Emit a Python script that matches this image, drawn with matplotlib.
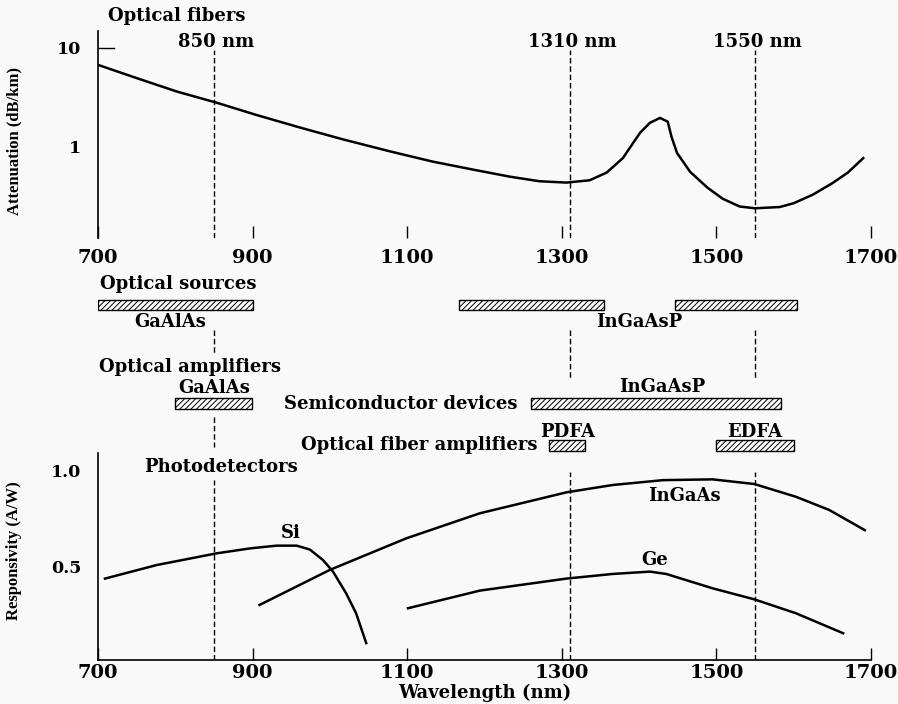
import numpy as np
import matplotlib
matplotlib.use("Agg")
import matplotlib.pyplot as plt

# attenuation of silica fiber (dB/km)
att_wl = [700, 754, 802, 853, 905, 961, 1017, 1078, 1133, 1185, 1233, 1271, 1306,
          1336, 1358, 1379, 1401, 1414, 1427, 1437, 1442, 1449, 1466, 1488, 1508, 1530,
          1550, 1582, 1600, 1625, 1650, 1670, 1690]
att_db = [6.73, 4.83, 3.62, 2.80, 2.10, 1.57, 1.19, 0.90, 0.71, 0.59, 0.50, 0.45, 0.436,
          0.46, 0.55, 0.77, 1.38, 1.75, 1.96, 1.8, 1.26, 0.87, 0.56, 0.39, 0.30, 0.25,
          0.24, 0.247, 0.27, 0.33, 0.43, 0.55, 0.77]

# responsivity of photodetectors (A/W)
si_wl = [709, 776, 853, 897, 931, 957, 974, 991, 1004, 1021, 1034, 1047]
si_r = [0.44, 0.51, 0.57, 0.596, 0.61, 0.61, 0.59, 0.536, 0.476, 0.364, 0.26, 0.107]
ingaas_wl = [909, 1000, 1099, 1194, 1306, 1366, 1431, 1495, 1549, 1603, 1646, 1692]
ingaas_r = [0.304, 0.485, 0.648, 0.777, 0.885, 0.923, 0.948, 0.952, 0.928, 0.862, 0.794, 0.69]
ge_wl = [1101, 1194, 1306, 1366, 1414, 1435, 1495, 1549, 1603, 1664]
ge_r = [0.287, 0.378, 0.44, 0.464, 0.476, 0.464, 0.39, 0.333, 0.261, 0.158]

# device wavelength ranges (nm)
src_gaalas = (700, 900)
src_ingaasp = [(1167, 1354), (1447, 1604)]
amp_gaalas = (800, 899)
amp_ingaasp = (1260, 1583)
pdfa = (1284, 1330)
edfa = (1500, 1601)

windows = [850, 1310, 1550]
window_labels = ["850 nm", "1310 nm", "1550 nm"]
xticks = [700, 900, 1100, 1300, 1500, 1700]

W, H = 898, 704
bold = dict(family="DejaVu Serif", weight="bold")
lab = dict(family="Liberation Serif", weight="bold", size=12)
fs = 13
plt.rcParams['hatch.linewidth'] = 0.7

fig = plt.figure(figsize=(W / 100, H / 100), dpi=100, facecolor="#f9f9f9")
x0, x1 = 98 / W, 871 / W

def frac(top, bottom):
    return [x0, 1 - bottom / H, x1 - x0, (bottom - top) / H]

# ---- top panel: attenuation
ax = fig.add_axes(frac(31, 238))
ax.set_facecolor("none")
ax.plot(att_wl, att_db, color="black", lw=1.8)
ax.set_yscale("log")
ax.set_xlim(700, 1700)
ax.set_ylim(10 ** -0.92, 10 ** 1.17)
ax.set_yticks([1, 10])
ax.set_yticklabels(["1", "10"], **bold, fontsize=12.5)
ax.yaxis.set_minor_locator(matplotlib.ticker.NullLocator())
ax.tick_params(axis="y", length=0, pad=12)
ax.plot([700, 721], [10, 10], color="black", lw=1)
ax.set_xticks(xticks)
ax.set_xticklabels([str(t) for t in xticks], **bold, fontsize=14)
ax.tick_params(axis="x", direction="in", length=9, width=1, pad=8)
for s in ["top", "right", "bottom"]:
    ax.spines[s].set_visible(False)
ax.spines["left"].set_linewidth(1.2)
ax.set_ylabel("Attenuation (dB/km)", **lab)
ax.yaxis.set_label_coords(-0.098, 0.47)
for w, t in zip(windows, window_labels):
    ax.axvline(w, ymax=0.91, color="black", lw=1, ls=(0, (4, 2)))
    ax.text(w + 3, 0.945, t, transform=ax.get_xaxis_transform(), ha="center",
            va="center", **bold, fontsize=fs)
fig.text(108 / W, 1 - 16 / H, "Optical fibers", ha="left", va="center", **bold, fontsize=fs)

# ---- middle: device ranges (y in pixel rows)
am = fig.add_axes(frac(238, 453))
am.set_xlim(700, 1700)
am.set_ylim(453, 238)
am.axis("off")

def bar(rng, top, bottom):
    am.bar(rng[0], bottom - top, width=rng[1] - rng[0], bottom=top, align="edge",
           facecolor="white", edgecolor="black", lw=1, hatch="//////")

bar(src_gaalas, 300, 310)
for r in src_ingaasp:
    bar(r, 300, 310)
bar(amp_gaalas, 398, 409)
bar(amp_ingaasp, 398, 409)
bar(pdfa, 440, 451)
bar(edfa, 440, 451)

am.text(702, 284, "Optical sources", ha="left", va="center", **bold, fontsize=fs)
am.text(794, 322, "GaAlAs", ha="center", va="center", **bold, fontsize=fs)
am.text(1400, 322, "InGaAsP", ha="center", va="center", **bold, fontsize=fs)
am.text(701, 367, "Optical amplifiers", ha="left", va="center", **bold, fontsize=fs)
am.text(850, 388, "GaAlAs", ha="center", va="center", **bold, fontsize=fs)
am.text(1243, 404, "Semiconductor devices", ha="right", va="center", **bold, fontsize=fs)
am.text(1430, 387, "InGaAsP", ha="center", va="center", **bold, fontsize=fs)
am.text(1307, 432, "PDFA", ha="center", va="center", **bold, fontsize=fs)
am.text(1550, 432, "EDFA", ha="center", va="center", **bold, fontsize=fs)
am.text(1268, 445, "Optical fiber amplifiers", ha="right", va="center", **bold, fontsize=fs)

dash = dict(color="black", lw=1, ls=(0, (4, 2)))
am.vlines(850, 330, 353, **dash)
am.vlines(850, 417, 447, **dash)
am.vlines([1310, 1550], 330, 380, **dash)

# ---- bottom panel: responsivity
ab = fig.add_axes(frac(453, 660))
ab.set_facecolor("none")
for wl, r in [(si_wl, si_r), (ingaas_wl, ingaas_r), (ge_wl, ge_r)]:
    ab.plot(wl, r, color="black", lw=1.8)
ab.set_xlim(700, 1700)
ab.set_ylim(0.02, 1.088)
ab.set_yticks([0.5, 1.0])
ab.set_yticklabels(["0.5", "1.0"], **bold, fontsize=12.5)
ab.tick_params(axis="y", length=0, pad=12)
ab.set_xticks(xticks)
ab.set_xticklabels([str(t) for t in xticks], **bold, fontsize=14)
ab.tick_params(axis="x", direction="in", length=9, width=1, pad=3)
for s in ["top", "right"]:
    ab.spines[s].set_visible(False)
ab.spines["left"].set_linewidth(1.2)
ab.spines["bottom"].set_linewidth(1.2)
ab.set_ylabel("Responsivity (A/W)", **lab)
ab.yaxis.set_label_coords(-0.098, 0.53)
ab.set_xlabel("Wavelength (nm)", **bold, fontsize=fs, labelpad=1)
ab.axvline(850, ymax=0.87, **dash)
ab.axvline(1310, ymax=0.91, **dash)
ab.axvline(1550, ymax=0.91, **dash)
ab.text(760, 1.015, "Photodetectors", ha="left", va="center", **bold, fontsize=fs)
ab.text(950, 0.675, "Si", ha="center", va="center", **bold, fontsize=fs)
ab.text(1459, 0.865, "InGaAs", ha="center", va="center", **bold, fontsize=fs)
ab.text(1420, 0.535, "Ge", ha="center", va="center", **bold, fontsize=fs)

fig.savefig("out.png", dpi=100, facecolor=fig.get_facecolor())
